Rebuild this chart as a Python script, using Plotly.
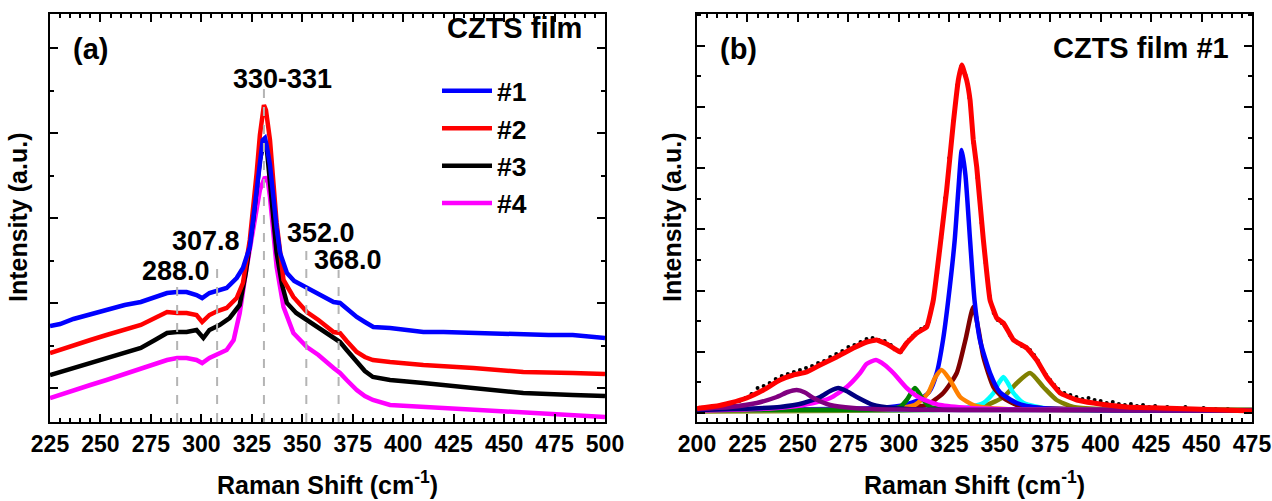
import plotly.graph_objects as go

# ---------------- Panel (a): Raman spectra of four CZTS films ----------------
xa = [225, 230, 236.6, 245, 253, 262, 270, 277, 283, 288, 292.7, 297.6, 300.4, 304, 308,
      312.5, 317.5, 320.6, 324, 327.4, 329, 330.4, 331.5, 332.3, 334, 335.6, 337.3, 339,
      342.4, 346, 352.3, 358, 365.5, 368.7, 372, 377, 381, 385.2, 393.5, 410, 420, 434.8,
      447, 459.5, 472, 484, 492, 500]
film1 = [62, 64, 69, 74, 78, 83, 86, 91, 95, 96, 96, 93, 90, 95, 97,
         100, 110, 120, 141, 198, 228, 248, 250, 243, 223, 188, 160, 135,
         115, 107, 100, 94, 86, 85, 79, 71, 66, 61, 60, 56, 56, 55,
         54, 53, 53, 53, 52, 50]

xb = [225, 230, 236.6, 245, 253, 262, 270, 277, 283, 288, 292.7, 297.6, 300.4, 304, 308,
      312.5, 317.5, 320.6, 324, 327.4, 329, 331, 332, 334, 335.6, 337.3, 340.7, 345.6,
      352.3, 358, 365.5, 368.7, 372, 377, 381, 385, 393.5, 410, 434.8, 459.5, 484, 500]
film2 = [35, 38, 43, 48, 53, 58, 63, 70, 76, 75, 75, 73, 66, 73, 77,
         80, 90, 105, 148, 215, 253, 283, 278, 248, 208, 165, 108, 91,
         76, 68, 56, 55, 47, 36, 31, 28, 26, 23, 20, 16, 15, 14]

xc = [225, 230, 236.6, 245, 253, 262, 270, 277, 283, 288, 292.7, 297.6, 301, 304, 309,
      314, 319, 322, 325.7, 329, 331, 332.5, 334, 337.3, 340, 342.4, 347, 352.3, 358,
      365.5, 368.7, 372, 377, 381, 385, 393.5, 410, 434.8, 459.5, 484, 500]
film3 = [13, 16, 20, 25, 30, 35, 40, 48, 55, 56, 56, 58, 50, 58, 63,
         70, 83, 115, 168, 228, 246, 238, 208, 135, 103, 85, 75, 68, 60,
         51, 46, 38, 26, 17, 11, 8, 5, 0, -5, -7, -8]

xd = [225, 230, 236.6, 245, 253, 262, 270, 277, 283, 288, 292.7, 297.6, 300.4, 304, 309,
      312.5, 316, 319, 322, 325.7, 329, 331.5, 333, 334, 337.3, 340.7, 345.6, 352.3, 358,
      365.5, 368.7, 372, 377, 381, 385, 393.5, 410, 434.8, 459.5, 484, 500]
film4 = [-10, -7, -2, 3, 8, 14, 20, 25, 28, 30, 30, 28, 25, 30, 35,
         38, 48, 75, 115, 161, 198, 211, 206, 191, 121, 81, 55, 41, 33,
         20, 15, 8, -2, -8, -12, -17, -19, -22, -25, -27, -29]

film_names = ["#1", "#2", "#3", "#4"]
film_colors = ["#0000FF", "#FF0000", "#000000", "#FF00FF"]

peak_pos = [288.0, 307.8, 331.0, 352.0, 368.0]
peak_line_top = [108, 128, 300, 141, 118]
peak_text = ["288.0", "307.8", "330-331", "352.0", "368.0"]
peak_text_x = [287.4, 302.3, 340.0, 359.3, 372.7]
peak_text_y = [117, 147, 309, 155, 128]

# ---------------- Panel (b): fit of film #1 ----------------
exp_x = [200, 203, 206, 209, 212, 215, 218, 221, 224, 227, 230, 233, 236, 239, 242, 245,
         248, 251, 254, 257, 260, 263, 266, 269, 272, 275, 278, 281, 284, 287, 290, 293,
         296, 299, 301, 303, 305, 307, 309, 311, 313, 315, 317, 319, 321, 323, 325, 327,
         329, 331, 333, 335, 337, 339, 341, 343, 345, 347, 349, 351, 353, 355, 357, 359,
         361, 363, 365, 367, 369, 371, 373, 375, 377, 379, 382, 385, 388, 391, 394, 397,
         400, 403, 406, 409, 412, 415, 418, 421, 424, 427, 430, 433, 436, 439, 442, 445,
         448, 451, 454, 457, 460, 463, 466, 469, 472, 475]
exp_y = [3, 2, 5, 4, 6, 8, 9, 12, 15, 19, 25, 27, 30, 34, 37, 39,
         41, 43, 45, 47, 50, 52, 56, 59, 62, 66, 68, 71, 74, 75, 73, 72,
         68, 63, 61, 68, 73, 77, 80, 84, 86, 92, 110, 140, 175, 215, 255, 292,
         328, 347, 338, 315, 270, 235, 190, 150, 117, 100, 93, 90, 86, 78, 73, 70,
         67, 66, 63, 58, 52, 44, 38, 33, 28, 24, 20, 18, 16, 14, 15, 13,
         12, 10, 11, 9, 8, 9, 7, 8, 6, 7, 5, 6, 5, 4, 6, 4,
         3, 5, 3, 4, 2, 4, 3, 2, 3, 2]

fit_x = [200, 201.5, 210, 216.4, 224.6, 232.9, 241.1, 247.7, 254.4, 261, 269.2, 277.5,
         284.1, 289, 294, 298, 300.6, 303.9, 308.9, 313.8, 317.1, 320.4, 323.7, 327,
         329.5, 331.2, 333.6, 335.3, 336.9, 338.6, 341.9, 345.2, 348.5, 351.8, 356.8,
         363.4, 368.3, 373.3, 379.9, 388.2, 396.4, 413, 429.4, 446, 475]
fit_y = [4, 5, 7, 10, 15, 23, 33, 38, 41, 48, 56, 65,
         71, 73, 69, 64, 61, 70, 80, 86, 113, 166, 223, 290,
         333, 348, 333, 313, 273, 246, 173, 113, 95, 90, 73,
         65, 53, 36, 20, 13, 10, 6, 5, 4, 2]

purple_x = [200, 216.4, 229.6, 239.5, 245, 249.4, 253.5, 257.7, 266, 277.5, 295, 330, 475]
purple_y = [4, 6, 10, 16, 21, 23, 20.5, 15, 8, 5, 3.5, 3, 2.5]
navy_x = [200, 220, 241.1, 252.8, 261, 266, 270, 274, 279.1, 287.4, 297.3, 310, 340, 475]
navy_y = [3, 4, 6, 10, 16, 22, 25, 22, 16, 8, 5, 3.5, 3, 2.5]
magenta_x = [200, 230, 245, 257.7, 266, 274.2, 280.8, 284, 288.7, 293, 297.3, 303.9,
             310.5, 320.4, 335, 360, 475]
magenta_y = [2.5, 4, 6, 10, 15, 26, 40, 49, 53, 48, 40, 25, 15, 8, 5, 3.5, 2.5]
green_x = [200, 290, 297, 300.6, 303.9, 308, 312.2, 315.5, 320, 330, 475]
green_y = [3, 3.5, 4.5, 6, 13, 25, 13, 6, 4.5, 3.5, 3]
orange_x = [200, 290, 300, 307.9, 314.5, 317.9, 321.2, 325.4, 330.4, 336.9, 345, 360, 475]
orange_y = [3, 3.5, 5, 8, 20, 35, 43, 33, 16, 8, 5, 3.5, 3]
blue_x = [200, 290, 300, 310, 315, 318.8, 321.9, 324.5, 327.7, 329.5, 331.2, 333, 335.3,
          337.5, 340.2, 345.2, 350, 358.5, 370, 400, 475]
blue_y = [3, 5, 7, 13, 21, 40, 73, 113, 173, 223, 263, 238, 173,
          113, 73, 40, 21, 10, 5, 3, 2.5]
brown_x = [200, 290, 305, 313.8, 322, 328.7, 333, 336.9, 339.5, 341.9, 346.9, 351.8,
           358.5, 370, 400, 475]
brown_y = [3, 4, 6, 8, 20, 40, 73, 106, 83, 56, 26, 15, 8, 5, 3.5, 3]
cyan_x = [200, 300, 330, 341.9, 346.9, 349.5, 351.8, 354, 356.8, 361.8, 375, 475]
cyan_y = [3, 3, 4, 10, 20, 30, 36, 30, 20, 10, 4, 3]
olive_x = [200, 300, 330, 343.5, 351.8, 358.5, 365, 371.6, 378.2, 386.5, 400, 475]
olive_y = [1.5, 2.5, 4, 8, 16, 30, 40, 26, 13, 6, 4, 2.5]

components = [
    (olive_x, olive_y, "#808000"),
    (cyan_x, cyan_y, "#00FFFF"),
    (brown_x, brown_y, "#800000"),
    (blue_x, blue_y, "#0000FF"),
    (orange_x, orange_y, "#FF8000"),
    (green_x, green_y, "#008000"),
    (magenta_x, magenta_y, "#FF00FF"),
    (navy_x, navy_y, "#000080"),
    (purple_x, purple_y, "#800080"),
]

FONT = "Liberation Sans, Arial, sans-serif"

fig = go.Figure()

spectra = [(xa, film1, film_names[0], film_colors[0]),
           (xb, film2, film_names[1], film_colors[1]),
           (xc, film3, film_names[2], film_colors[2]),
           (xd, film4, film_names[3], film_colors[3])]
# draw #4 first and #1 last (blue on top); legend order reversed back to #1..#4
for xs, ys, name, col in reversed(spectra):
    fig.add_trace(go.Scatter(x=xs, y=ys, mode="lines", name=name,
                             line=dict(color=col, width=4.5),
                             xaxis="x", yaxis="y"))

fig.add_trace(go.Scatter(x=exp_x, y=exp_y, mode="markers", showlegend=False,
                         marker=dict(color="black", size=4),
                         xaxis="x2", yaxis="y2"))
for xs, ys, col in components:
    fig.add_trace(go.Scatter(x=xs, y=ys, mode="lines", showlegend=False,
                             line=dict(color=col, width=4.5, shape="spline", smoothing=0.6),
                             xaxis="x2", yaxis="y2"))
fig.add_trace(go.Scatter(x=fit_x, y=fit_y, mode="lines", showlegend=False,
                         line=dict(color="#FF0000", width=5, shape="spline", smoothing=0.3),
                         xaxis="x2", yaxis="y2"))

# dashed peak markers
for p, top in zip(peak_pos, peak_line_top):
    fig.add_shape(type="line", xref="x", yref="y", x0=p, x1=p, y0=-34, y1=top,
                  line=dict(color="#B4B4B4", width=2, dash="dash"), layer="above")
for t, tx, ty in zip(peak_text, peak_text_x, peak_text_y):
    fig.add_annotation(x=tx, y=ty, xref="x", yref="y", text=t, showarrow=False,
                       font=dict(family=FONT, size=27, color="black", weight="bold"))

axis_common = dict(showline=True, linewidth=2, linecolor="black", mirror="allticks",
                   ticks="inside", tickwidth=2, tickcolor="black", showgrid=False,
                   zeroline=False, automargin=False)
xcommon = dict(axis_common, dtick=25, tick0=0, ticklen=8, ticklabeloverflow="allow",
               minor=dict(dtick=5, ticks="inside", ticklen=4, tickwidth=1.5, tickcolor="black"),
               tickfont=dict(family=FONT, size=23, color="black", weight="bold"))

dom_a = [50 / 1272, 605 / 1272]
dom_b = [697 / 1272, 1252 / 1272]
ydom = [1 - 422 / 501, 1 - 14 / 501]

fig.update_layout(
    width=1272, height=501,
    margin=dict(l=0, r=0, t=0, b=0, pad=0, autoexpand=False),
    paper_bgcolor="white", plot_bgcolor="white",
    xaxis=dict(xcommon, domain=dom_a, range=[225, 500], anchor="y"),
    yaxis=dict(axis_common, domain=ydom, range=[-34, 374], anchor="x",
               tickvals=[0, 85, 170, 255, 340], ticklen=8, showticklabels=False,
               minor=dict(tickvals=[42.5, 127.5, 212.5, 297.5], ticks="inside",
                          ticklen=4, tickwidth=2, tickcolor="black")),
    xaxis2=dict(xcommon, domain=dom_b, range=[200, 475], anchor="y2"),
    yaxis2=dict(axis_common, domain=ydom, range=[-9, 399], anchor="x2",
                tickvals=[0, 61.2, 122.4, 183.6, 244.8, 306, 367.2], ticklen=8,
                showticklabels=False,
                minor=dict(tickvals=[30.6, 91.8, 153, 214.2, 275.4, 336.6, 397.8],
                           ticks="inside", ticklen=4, tickwidth=2, tickcolor="black")),
    legend=dict(x=437 / 1272, y=1 - 67 / 501, xanchor="left", yanchor="top",
                bgcolor="rgba(0,0,0,0)", itemwidth=50, tracegroupgap=0,
                traceorder="reversed",
                font=dict(family=FONT, size=26.5, color="black", weight="bold")),
    showlegend=True,
)

fig.add_annotation(x=514 / 1272, y=1 - 28 / 501, xref="paper", yref="paper",
                   text="CZTS film", showarrow=False,
                   font=dict(family=FONT, size=29, color="black", weight="bold"),
                   xanchor="center", yanchor="middle")

title_font = dict(family=FONT, size=25, color="black", weight="bold")
for cx in [(50 + 605) / 2 / 1272, (697 + 1252) / 2 / 1272]:
    fig.add_annotation(x=cx, y=1 - 483 / 501, xref="paper", yref="paper",
                       text="Raman Shift (cm<sup>-1</sup>)", showarrow=False,
                       font=title_font, xanchor="center", yanchor="middle")
for cx in [18 / 1272, 672 / 1272]:
    fig.add_annotation(x=cx, y=1 - 218 / 501, xref="paper", yref="paper",
                       text="Intensity (a.u.)", showarrow=False, textangle=-90,
                       font=title_font, xanchor="center", yanchor="middle")

panel_font = dict(family=FONT, size=29, color="black", weight="bold")
fig.add_annotation(x=90 / 1272, y=1 - 49 / 501, xref="paper", yref="paper", text="(a)",
                   showarrow=False, font=panel_font, xanchor="center", yanchor="middle")
fig.add_annotation(x=738 / 1272, y=1 - 49 / 501, xref="paper", yref="paper", text="(b)",
                   showarrow=False, font=panel_font, xanchor="center", yanchor="middle")
fig.add_annotation(x=1141 / 1272, y=1 - 48 / 501, xref="paper", yref="paper",
                   text="CZTS film #1", showarrow=False, font=panel_font,
                   xanchor="center", yanchor="middle")

fig.write_html("out.html")
